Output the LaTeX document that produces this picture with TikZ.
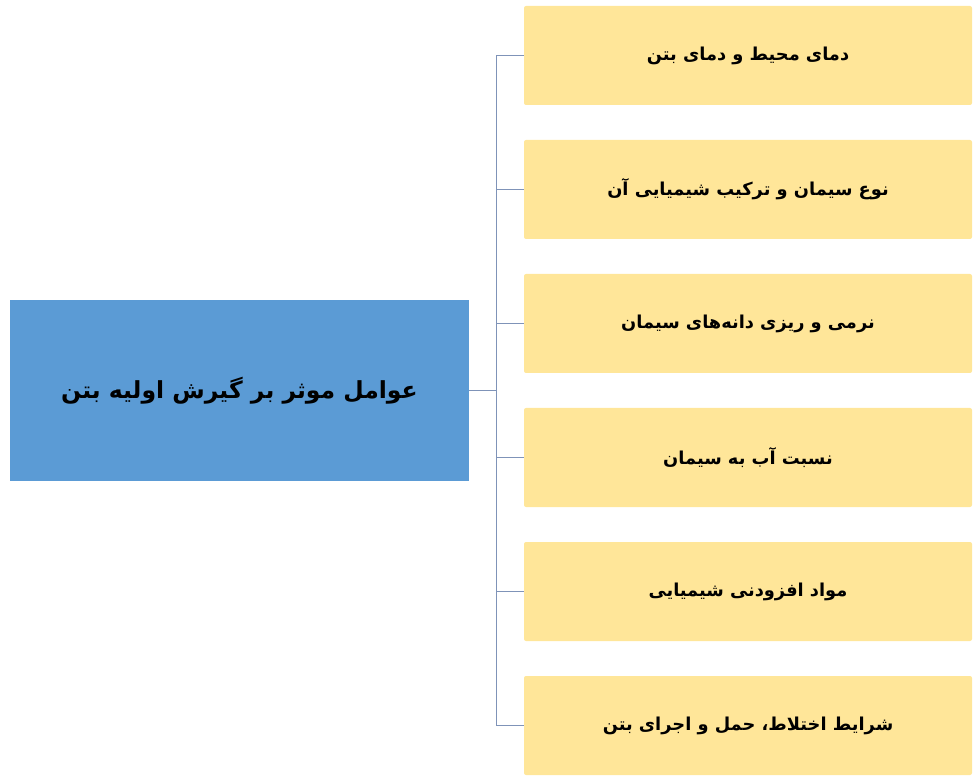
\documentclass[tikz,border=0pt]{standalone}
\usepackage{fontspec}
\TeXXeTstate=1
\newfontfamily\arabicfont[Script=Arabic]{DejaVu Sans}
\definecolor{mainblue}{HTML}{5B9BD5}
\definecolor{boxyellow}{HTML}{FFE699}
\definecolor{linecol}{HTML}{7F93B8}
\tikzset{
  mainbox/.style={fill=mainblue, draw=none, minimum width=459pt, minimum height=181pt, inner sep=0pt, font=\arabicfont\bfseries\fontsize{23.5}{27}\selectfont},
  factorbox/.style={fill=boxyellow, draw=none, rounded corners=2pt, minimum width=448pt, minimum height=99pt, inner sep=0pt, font=\arabicfont\bfseries\fontsize{17.8}{21}\selectfont},
  conn/.style={draw=linecol, line width=0.9pt}
}
\begin{document}
\begin{tikzpicture}[x=1pt,y=-1pt]
\useasboundingbox (0,0) rectangle (980,783);
\node[mainbox] (m) at (239.5,390.5) {\beginR عوامل موثر بر گیرش اولیه بتن\endR};
\node[factorbox] (y1) at (748,55.5) {\beginR دمای محیط و دمای بتن\endR};
\node[factorbox] (y2) at (748,189.5) {\beginR نوع سیمان و ترکیب شیمیایی آن\endR};
\node[factorbox] (y3) at (748,323.5) {\beginR نرمی و ریزی دانه‌های سیمان\endR};
\node[factorbox] (y4) at (748,457.5) {\beginR نسبت آب به سیمان\endR};
\node[factorbox] (y5) at (748,591.5) {\beginR مواد افزودنی شیمیایی\endR};
\node[factorbox] (y6) at (748,725.5) {\beginR شرایط اختلاط، حمل و اجرای بتن\endR};
\coordinate (j) at (496,390.5);
\draw[conn] (m.east) -- (j);
\foreach \i in {1,...,6} {
  \draw[conn] (j) |- (y\i.west);
}
\end{tikzpicture}
\end{document}
